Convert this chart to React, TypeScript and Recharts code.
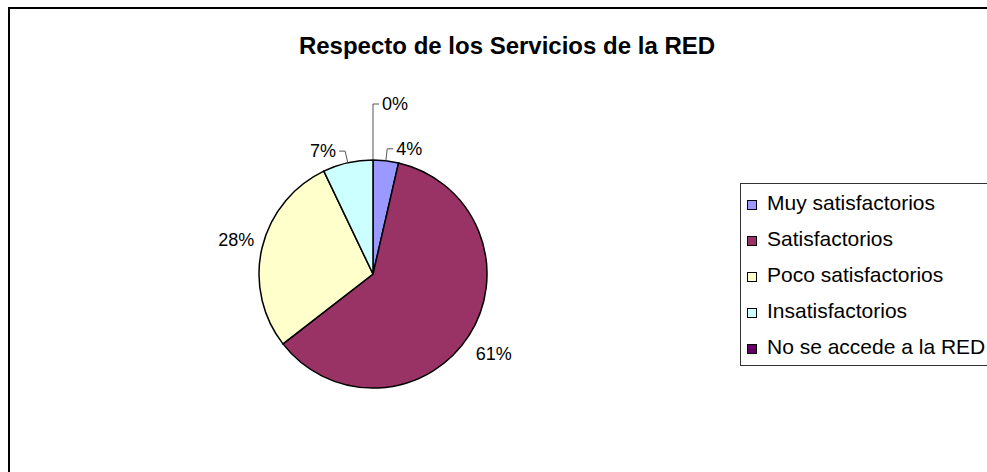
import React from "react";
import { PieChart, Pie, Cell, Legend } from "recharts";

const categories = [
  "Muy satisfactorios",
  "Satisfactorios",
  "Poco satisfactorios",
  "Insatisfactorios",
  "No se accede a la RED",
];
const shares = [3.6, 60.9, 28.4, 7.1, 0];
const colors = ["#9999FF", "#993366", "#FFFFCC", "#CCFFFF", "#660066"];

const data = categories.map((name, i) => ({ name, value: shares[i] }));

const RAD = Math.PI / 180;
const FONT = "'Liberation Sans', Arial, sans-serif";

// excel-ish labels: small slices get an elbow leader line
function renderLabel(props: any) {
  const { cx, cy, midAngle, outerRadius, percent, index } = props;
  const ux = Math.cos(-midAngle * RAD);
  const uy = Math.sin(-midAngle * RAD);
  const text = `${Math.round(percent * 100)}%`;
  const dir = ux > -0.01 ? 1 : -1;
  const anchor = dir > 0 ? "start" : "end";

  if (percent < 0.1) {
    const len = percent === 0 ? 56 : 12;
    const x0 = cx + outerRadius * ux;
    const y0 = cy + outerRadius * uy;
    const x1 = cx + (outerRadius + len) * ux;
    const y1 = cy + (outerRadius + len) * uy;
    const x2 = x1 + 6 * dir;
    return (
      <g key={`lbl-${index}`}>
        <polyline points={`${x0},${y0} ${x1},${y1} ${x2},${y1}`} fill="none" stroke="#555" strokeWidth={1} />
        <text x={x2 + 3 * dir} y={y1} textAnchor={anchor} dominantBaseline="central" fontFamily={FONT} fontSize={18} fill="#000">
          {text}
        </text>
      </g>
    );
  }

  const x = cx + (outerRadius + 8) * ux;
  const y = cy + (outerRadius + 8) * uy + uy * 26;
  return (
    <text key={`lbl-${index}`} x={x} y={y} textAnchor={anchor} dominantBaseline="central" fontFamily={FONT} fontSize={18} fill="#000">
      {text}
    </text>
  );
}

function LegendBox() {
  return (
    <div style={{ border: "1px solid #333", width: 300, height: 180, paddingTop: 1, fontFamily: FONT, fontSize: 21, color: "#000", background: "#fff" }}>
      {categories.map((c, i) => (
        <div key={c} style={{ display: "flex", alignItems: "center", height: 36, whiteSpace: "nowrap" }}>
          <span style={{ display: "inline-block", boxSizing: "border-box", width: 10, height: 10, marginLeft: 6, marginRight: 10, marginTop: 4, background: colors[i], border: "1px solid #000" }} />
          <span>{c}</span>
        </div>
      ))}
    </div>
  );
}

export default function App() {
  return (
    <div style={{ position: "fixed", left: 0, top: 0, width: 987, height: 472, overflow: "hidden", background: "#fff" }}>
      <div style={{ position: "absolute", left: 8, top: 7, width: 1100, height: 600, border: "2px solid #000" }} />
      <div style={{ position: "absolute", left: 507, top: 32, transform: "translateX(-50%)", whiteSpace: "nowrap", fontFamily: FONT, fontWeight: "bold", fontSize: 24, color: "#000" }}>
        Respecto de los Servicios de la RED
      </div>
      <div style={{ position: "absolute", left: 0, top: 0 }}>
        <PieChart width={987} height={472} margin={{ top: 0, right: 0, bottom: 0, left: 0 }}>
          <Pie
            data={data}
            dataKey="value"
            nameKey="name"
            cx={373}
            cy={274}
            outerRadius={114}
            startAngle={90}
            endAngle={-270}
            stroke="#000"
            strokeWidth={1.5}
            label={renderLabel}
            labelLine={false}
            isAnimationActive={false}
          >
            {data.map((d, i) => (
              <Cell key={d.name} fill={colors[i]} />
            ))}
          </Pie>
          <Legend content={() => <LegendBox />} wrapperStyle={{ left: 740, top: 183, width: 300 }} />
        </PieChart>
      </div>
    </div>
  );
}
